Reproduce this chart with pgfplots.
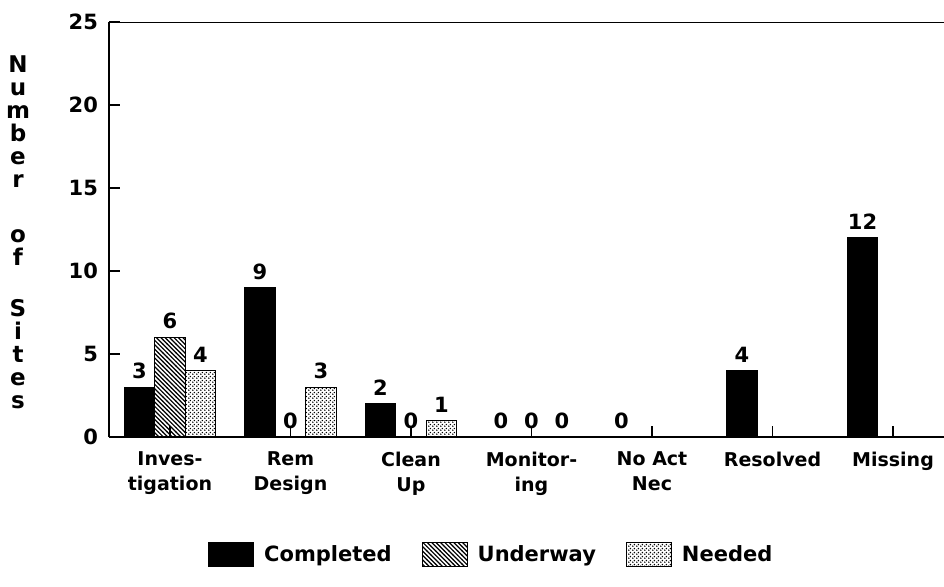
\documentclass[border=0pt]{standalone}
\usepackage{fontspec}
\setmainfont{DejaVu Sans}
\usepackage{pgfplots}
\pgfplotsset{compat=1.18}
\usetikzlibrary{patterns}

% fine diagonal hatching for "Underway"
\pgfdeclarepatternformonly{finehatch}{\pgfqpoint{-1pt}{-1pt}}{\pgfqpoint{3.2pt}{3.2pt}}{\pgfqpoint{2.2pt}{2.2pt}}{%
  \pgfsetlinewidth{0.6pt}%
  \pgfpathmoveto{\pgfqpoint{-0.1pt}{2.3pt}}%
  \pgfpathlineto{\pgfqpoint{2.3pt}{-0.1pt}}%
  \pgfusepath{stroke}}
% staggered fine dots for "Needed"
\pgfdeclarepatternformonly{finedots}{\pgfqpoint{0pt}{0pt}}{\pgfqpoint{2pt}{2pt}}{\pgfqpoint{2pt}{2pt}}{%
  \pgfpathcircle{\pgfqpoint{0.5pt}{0.5pt}}{0.48pt}%
  \pgfpathcircle{\pgfqpoint{1.5pt}{1.5pt}}{0.48pt}%
  \pgfusepath{fill}}

\begin{document}
\begin{tikzpicture}
\path[use as bounding box] (0,0) rectangle (472pt,293pt);
\begin{axis}[
  at={(54.5pt,74.5pt)}, anchor=south west,
  scale only axis, width=417.5pt, height=207.5pt,
  xmin=-0.506, xmax=6.423, ymin=0, ymax=25,
  enlargelimits=false,
  axis lines=left,
  axis line style={-, line width=0.9pt},
  ybar=0pt, bar width=15.25pt,
  tick align=inside, major tick length=5.5pt,
  tick style={black, line width=0.8pt},
  xtick={0,1,2,3,4,5,6},
  xticklabels={Inves-\\tigation, Rem\\Design, Clean\\Up, Monitor-\\ing, No Act\\Nec, Resolved, Missing},
  xticklabel style={align=center, font=\bfseries\fontsize{9.5}{12.5}\selectfont, yshift=-4pt},
  ytick={0,5,10,15,20,25},
  yticklabel style={font=\bfseries\fontsize{10.5}{12}\selectfont, xshift=-2pt},
  /pgf/number format/assume math mode=true,
  nodes near coords,
  nodes near coords style={font=\bfseries\fontsize{10.5}{12}\selectfont, yshift=0.5pt},
  legend columns=3,
  legend image code/.code={\draw[#1, line width=0.5pt] (0pt,-6pt) rectangle (22.5pt,6pt);},
  legend style={at={(0.459,-0.284)}, anchor=center, draw=none,
    font=\bfseries\fontsize{10.5}{12}\selectfont,
    /tikz/every odd column/.append style={column sep=3pt},
    /tikz/every even column/.append style={column sep=13pt}},
]
\addplot[draw=black, line width=0.5pt, fill=black]
  coordinates {(0,3) (1,9) (2,2) (3,0) (4,0) (5,4) (6,12)};
\addplot[draw=black, line width=0.5pt, pattern=finehatch]
  coordinates {(0,6) (1,0) (2,0) (3,0)};
\addplot[draw=black, line width=0.5pt, pattern=finedots]
  coordinates {(0,4) (1,3) (2,1) (3,0)};
\legend{Completed, Underway, Needed}
\draw[line width=0.9pt] (rel axis cs:0,1) -- (rel axis cs:1,1);
\end{axis}
\node[font=\bfseries\fontsize{11.5}{11.5}\selectfont, align=center] at (9pt,177pt)
  {N\\u\\m\\b\\e\\r\\[16pt]o\\f\\[14pt]S\\i\\t\\e\\s};
\end{tikzpicture}
\end{document}
